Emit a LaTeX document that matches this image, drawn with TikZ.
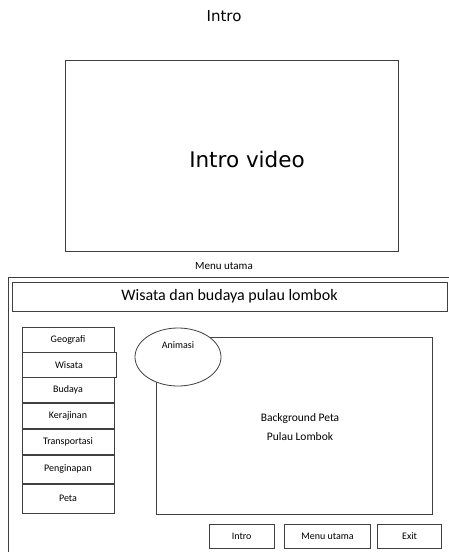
\documentclass[tikz,border=0pt]{standalone}
\usepackage{fontspec}
\setmainfont{Carlito}
\newfontfamily\dejavu{DejaVu Sans}
\usepackage{tikz}
\usetikzlibrary{positioning,shapes}
\tikzset{
fr/.style={draw=black!75,line width=0.8pt},
ve/.style={rectangle,fr,inner sep=0pt},
mb/.style={ve,minimum width=92pt,minimum height=25pt,font=\fontsize{10}{12}\selectfont},
bt/.style={ve,minimum height=24pt,font=\fontsize{10}{12}\selectfont},
el/.style={font=\fontsize{10}{12}\selectfont,inner sep=0pt},
}

\begin{document}
\begin{tikzpicture}[x=1pt,y=-1pt]
	\useasboundingbox (0,0) rectangle (449,552);

	% intro
	\node[el,font=\dejavu\fontsize{15}{18}\selectfont] (introtitle) at (224,16) {Intro};
	\node[ve,minimum width=333pt,minimum height=191pt] (video) at (231.5,155.5) {};
	\node[el,font=\dejavu\fontsize{21.5}{26}\selectfont] (videotext) at (247,159) {Intro video};

	% menu utama
	\node[el,font=\fontsize{11}{13}\selectfont] (menutitle) at (224,266) {Menu utama};
	\coordinate (frtr) at (450,277);
	\coordinate (frtl) at (8,277);
	\coordinate (frbl) at (8,553);
	\draw[fr] (frtr) -- (frtl) -- (frbl);
	\node[ve,minimum width=435pt,minimum height=29pt,font=\fontsize{16}{19}\selectfont] (judul) at (229.5,296.5) {Wisata dan budaya pulau lombok};

	\node[mb] (geografi) at (68,339.5) {Geografi};
	\node[mb,below=0pt of geografi,xshift=1pt,minimum width=94pt] (wisata) {Wisata};
	\node[mb,below=0pt of geografi,yshift=-25pt] (budaya) {Budaya};
	\node[mb,below=0pt of budaya] (kerajinan) {Kerajinan};
	\node[mb,below=0pt of kerajinan] (transportasi) {Transportasi};
	\node[mb,below=0pt of transportasi,minimum height=28pt] (penginapan) {Penginapan};
	\node[mb,below=0pt of penginapan,minimum height=29pt] (peta) {Peta};

	\node[ve,minimum width=276pt,minimum height=177pt] (peta bg) at (294.7,425.4) {};
	\node[el,align=center,font=\fontsize{11.5}{19}\selectfont] (petatext) at (300,427.5) {Background Peta\\Pulau Lombok};
	\node[ellipse,fr,fill=white,minimum width=86pt,minimum height=58pt] (animasi) at (178,357) {};
	\node[el,below=14pt of animasi.north] (animasitext) {Animasi};

	\node[bt,minimum width=64.7pt] (intro) at (241.7,536) {Intro};
	\node[bt,minimum width=85.3pt,right=10pt of intro] (menu) {Menu utama};
	\node[bt,minimum width=64pt,right=6.7pt of menu] (exit) {Exit};
\end{tikzpicture}
\end{document}
